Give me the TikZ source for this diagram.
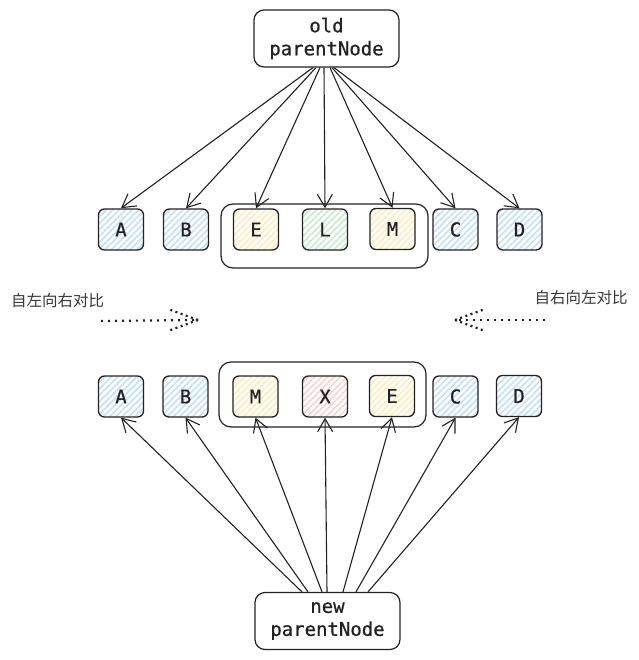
\documentclass[tikz,border=0pt]{standalone}
\usepackage{fontspec}
\setmonofont[FakeBold=0.6]{DejaVu Sans Mono}
\newfontfamily\cjk{Noto Sans CJK SC}
\usetikzlibrary{arrows.meta,patterns.meta}
\definecolor{ink}{HTML}{222222}
\definecolor{hblue}{HTML}{C2E0F7}
\definecolor{hyellow}{HTML}{FCEDBA}
\definecolor{hgreen}{HTML}{C8EBCD}
\definecolor{hred}{HTML}{F7D2D2}
\begin{document}
\begin{tikzpicture}[x=1pt,y=-1pt,
  mono/.style={font=\ttfamily\fontsize{19}{23}\selectfont, text=ink},
  card/.style={mono, draw=ink, line width=1.3pt, rounded corners=6pt,
    minimum width=45pt, minimum height=41pt, inner sep=0pt},
  hatched/.style={card, pattern={Lines[angle=45,distance=4.5pt,line width=1.6pt]}, pattern color=#1},
  blue/.style={hatched=hblue},
  yellow/.style={hatched=hyellow},
  green/.style={hatched=hgreen},
  red/.style={hatched=hred},
  parent/.style={mono, draw=ink, line width=1.2pt, rounded corners=10pt,
    minimum width=145pt, minimum height=57pt, inner sep=0pt, align=center},
  group/.style={draw=ink, line width=1.2pt, rounded corners=12pt},
  link/.style={draw=ink, line width=1.1pt, -{Straight Barb[length=13pt,width=15pt,line width=1.1pt]}},
  dots/.style={draw=ink, line width=2.2pt, dash pattern=on 2pt off 5pt},
  dotshead/.style={draw=ink, line width=2.2pt, dash pattern=on 2pt off 3.5pt},
  cn/.style={font=\cjk\fontsize{15.5}{17}\selectfont, text=ink!90}
]
\useasboundingbox[fill=white] (0,0) rectangle (638,660);

% parent nodes
\node[parent] (oldp) at (326.5,38.5) {old\\parentNode};
\node[parent] (newp) at (327.5,621) {new\\parentNode};

% old children
\draw[group] (221,204) rectangle (428,268);
\node[blue]   (oA) at (121,229.5) {A};
\node[blue]   (oB) at (186,229.5) {B};
\node[yellow] (oE) at (256,229.5) {E};
\node[green]  (oL) at (325,229.5) {L};
\node[yellow] (oM) at (392.5,229) {M};
\node[blue]   (oC) at (455.5,229.5) {C};
\node[blue]   (oD) at (519.5,229.5) {D};

% new children
\draw[group] (219,362) rectangle (426,427);
\node[blue]   (nA) at (121,396.5) {A};
\node[blue]   (nB) at (185.5,396.5) {B};
\node[yellow] (nM) at (255.5,396.5) {M};
\node[red]    (nX) at (325,396.5) {X};
\node[yellow] (nE) at (392,396) {E};
\node[blue]   (nC) at (455.5,396.5) {C};
\node[blue]   (nD) at (519,396) {D};

% old parent -> old children
\draw[link] ([xshift=-13.5pt]oldp.south) -- (oA.north);
\draw[link] ([xshift=-10.5pt]oldp.south) -- (oB.north);
\draw[link] ([xshift=-6.5pt]oldp.south) -- (oE.north);
\draw[link] ([xshift=-2.5pt]oldp.south) -- (oL.north);
\draw[link] ([xshift=3.5pt]oldp.south) -- (oM.north);
\draw[link] ([xshift=5.5pt]oldp.south) -- (oC.north);
\draw[link] ([xshift=7.5pt]oldp.south) -- (oD.north);

% new parent -> new children
\draw[link] ([xshift=-25.5pt]newp.north) -- (nA.south);
\draw[link] ([xshift=-19.5pt]newp.north) -- (nB.south);
\draw[link] ([xshift=-5.5pt]newp.north) -- (nM.south);
\draw[link] ([xshift=-0.5pt]newp.north) -- (nX.south);
\draw[link] ([xshift=15.5pt]newp.north) -- (nE.south);
\draw[link] ([xshift=28.5pt]newp.north) -- (nC.south);
\draw[link] ([xshift=40.5pt]newp.north) -- (nD.south);

% comparison direction hints
\node[cn] (ltr) at (57.5,301) {自左向右对比};
\node[cn] (rtl) at (581,298) {自右向左对比};

\coordinate (l0) at (101,321);
\coordinate (l1) at (198,320);
\coordinate (lu) at (168,309);
\coordinate (ld) at (168,331);
\draw[dots] (l0) -- (l1);
\draw[dotshead] (l1) -- (lu);
\draw[dotshead] (l1) -- (ld);

\coordinate (r0) at (545,320);
\coordinate (r1) at (455,320);
\coordinate (ru) at (485,309);
\coordinate (rd) at (485,331);
\draw[dots] (r0) -- (r1);
\draw[dotshead] (r1) -- (ru);
\draw[dotshead] (r1) -- (rd);
\end{tikzpicture}
\end{document}
